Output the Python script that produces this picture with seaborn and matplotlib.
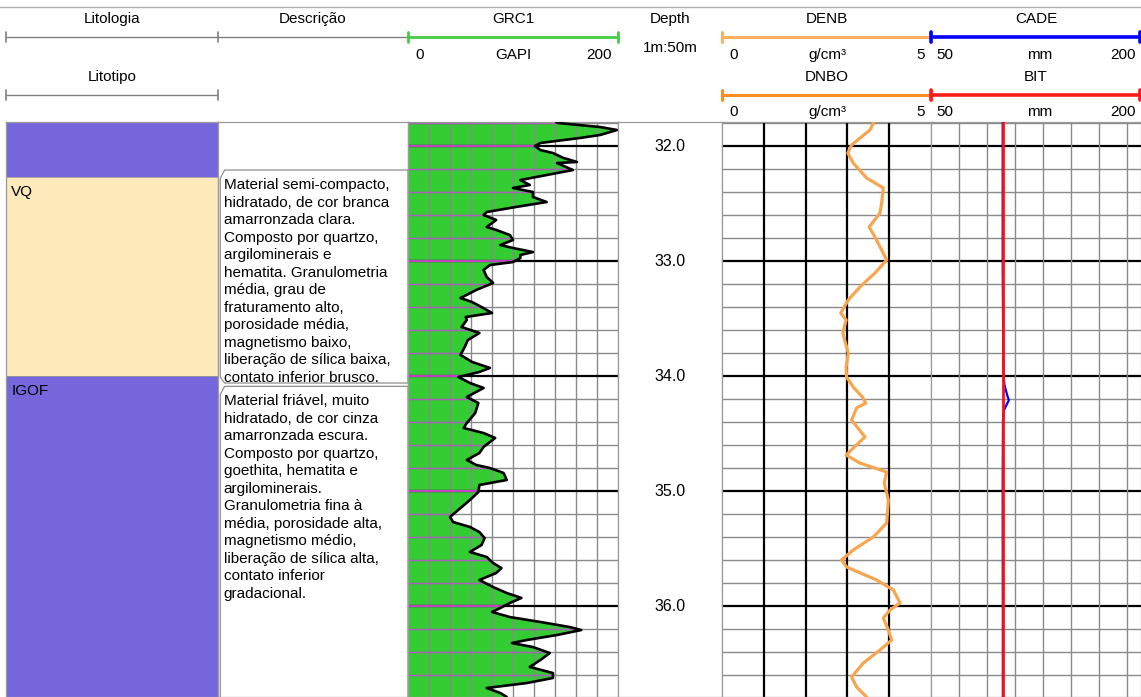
import matplotlib
matplotlib.use("Agg")
import matplotlib.pyplot as plt
from matplotlib.patches import PathPatch, Polygon
import seaborn as sns

sns.set_style("white")
plt.rcParams['font.family'] = ['Liberation Sans', 'DejaVu Sans']
plt.rcParams['text.color'] = 'black'

# ---------------- data ----------------
depth_top, depth_bottom = 31.7913, 36.7913
depth_labels = [32.0, 33.0, 34.0, 35.0, 36.0]

lith_top = [31.7913, 32.272, 34.0]
lith_base = [32.272, 34.0, 36.7913]
lith_code = ["", "VQ", "IGOF"]
lith_color = ["#7566DB", "#FEE9BA", "#7566DB"]

desc_top = [32.209, 34.09]
desc_base = [34.061, 36.90]
desc_text = [
    "Material semi-compacto,\nhidratado, de cor branca\namarronzada clara.\nComposto por quartzo,\n"
    "argilominerais e\nhematita. Granulometria\nmédia, grau de\nfraturamento alto,\n"
    "porosidade média,\nmagnetismo baixo,\nliberação de sílica baixa,\ncontato inferior brusco.",
    "Material friável, muito\nhidratado, de cor cinza\namarronzada escura.\nComposto por quartzo,\n"
    "goethita, hematita e\nargilominerais.\nGranulometria fina à\nmédia, porosidade alta,\n"
    "magnetismo médio,\nliberação de sílica alta,\ncontato inferior\ngradacional.",
]

grc_depth = [31.791, 31.800, 31.835, 31.861, 31.904, 31.930, 31.974, 32.000, 32.035, 32.061,
             32.104, 32.139, 32.148, 32.209, 32.235, 32.296, 32.339, 32.365, 32.400, 32.443,
             32.487, 32.530, 32.574, 32.600, 32.643, 32.704, 32.730, 32.774, 32.817, 32.861,
             32.887, 32.922, 32.948, 32.974, 33.009, 33.035, 33.078, 33.139, 33.191, 33.252,
             33.322, 33.357, 33.400, 33.452, 33.487, 33.513, 33.574, 33.626, 33.687, 33.748,
             33.817, 33.878, 33.930, 33.965, 34.009, 34.061, 34.104, 34.183, 34.235, 34.322,
             34.409, 34.452, 34.496, 34.539, 34.617, 34.670, 34.730, 34.774, 34.800, 34.843,
             34.904, 34.948, 35.009, 35.078, 35.148, 35.226, 35.270, 35.313, 35.357, 35.409,
             35.470, 35.530, 35.574, 35.626, 35.670, 35.713, 35.774, 35.835, 35.887, 35.930,
             35.974, 36.017, 36.052, 36.096, 36.139, 36.183, 36.209, 36.252, 36.296, 36.322,
             36.357, 36.409, 36.470, 36.530, 36.583, 36.626, 36.670, 36.713, 36.757, 36.791]
grc_val = [141, 143, 183, 199, 183, 164, 126, 121, 126, 138,
           148, 161, 142, 157, 142, 107, 116, 100, 119, 119,
           132, 103, 75, 72, 84, 75, 84, 97, 100, 88,
           100, 119, 107, 107, 100, 78, 72, 75, 81, 65,
           50, 61, 70, 80, 55, 56, 51, 68, 57, 54,
           50, 61, 78, 68, 48, 59, 72, 56, 67, 64,
           56, 53, 72, 83, 72, 68, 56, 65, 78, 91,
           94, 68, 67, 59, 50, 40, 43, 59, 68, 73,
           70, 59, 75, 81, 89, 84, 68, 81, 94, 108,
           97, 88, 80, 97, 126, 154, 165, 142, 113, 99,
           119, 135, 126, 116, 138, 138, 113, 75, 88, 94]

denb_depth = [31.791, 31.800, 31.861, 31.991, 32.061, 32.148, 32.278, 32.365, 32.496, 32.583,
              32.704, 32.791, 32.991, 33.104, 33.226, 33.339, 33.452, 33.513, 33.626, 33.800,
              33.922, 34.009, 34.096, 34.183, 34.235, 34.278, 34.383, 34.530, 34.626, 34.687,
              34.757, 34.835, 34.930, 35.078, 35.278, 35.400, 35.513, 35.600, 35.661, 35.774,
              35.861, 35.974, 36.035, 36.104, 36.209, 36.296, 36.383, 36.496, 36.617, 36.704,
              36.791]
denb_val = [3.64, 3.62, 3.54, 3.10, 3.01, 3.14, 3.46, 3.86, 3.82, 3.78,
            3.52, 3.66, 3.94, 3.66, 3.30, 3.02, 2.84, 2.97, 2.89, 3.02,
            2.97, 2.98, 3.14, 3.36, 3.44, 3.22, 3.10, 3.42, 3.14, 2.97,
            3.30, 3.94, 3.88, 3.98, 3.94, 3.62, 3.14, 2.86, 2.98, 3.70,
            4.10, 4.26, 4.02, 3.86, 3.98, 4.06, 3.78, 3.38, 3.10, 3.22,
            3.46]

cade_depth = [31.791, 33.0, 33.4, 34.0, 34.08, 34.17, 34.21, 34.25, 34.30, 34.39, 35.0, 36.0, 36.791]
cade_val = [101.2, 101.2, 101.4, 101.8, 102.5, 104.5, 105.6, 104.0, 102.0, 101.4, 101.2, 101.3, 101.3]

bit_depth = [31.791, 36.791]
bit_val = [101.6, 101.6]

# ---------------- figure ----------------
W, H = 1141, 697
fig = plt.figure(figsize=(W / 100, H / 100), dpi=100)

hax = fig.add_axes([0, 0, 1, 1])
hax.set_xlim(0, W)
hax.set_ylim(H, 0)
hax.axis('off')

GRID_C = "#8a8a8a"
SPINE_C = "#9a9a9a"
FS = 11


def track(x0, x1, y0=122, y1=697):
    ax = fig.add_axes([x0 / W, 1 - y1 / H, (x1 - x0) / W, (y1 - y0) / H])
    ax.set_ylim(depth_bottom, depth_top)
    ax.set_xticks([])
    ax.set_yticks([])
    for s in ax.spines.values():
        s.set_color(SPINE_C)
        s.set_linewidth(0.9)
    return ax


minor_depths = [round(31.8 + 0.2 * i, 1) for i in range(26)]
minor_depths = [d for d in minor_depths if depth_top < d < depth_bottom]


def hgrid(ax, zorder=2):
    lines = []
    for d in minor_depths:
        major = abs(d - round(d)) < 1e-6
        ln = ax.axhline(d, color="black" if major else GRID_C,
                        lw=1.6 if major else 1.0, zorder=zorder)
        lines.append((d, major, ln))
    return lines


def finish(ax, xlim):
    ax.set_xlabel("")
    ax.set_ylabel("")
    ax.set_ylim(depth_bottom, depth_top)
    ax.set_xlim(*xlim)
    ax.set_xticks([])
    ax.set_yticks([])


# ---- Litologia ----
ax_l = track(6, 218)
ax_l.set_xlim(0, 1)
for t, b, c, col in zip(lith_top, lith_base, lith_code, lith_color):
    ax_l.axhspan(t, b, color=col, lw=0)
    if c:
        ax_l.text(0.025, t + 0.07, c, transform=ax_l.get_yaxis_transform(),
                  fontsize=FS, va='top', ha='left')
    ax_l.axhline(t, color=SPINE_C, lw=0.6)

# ---- Descrição ----
ax_d = track(218, 408)
ax_d.set_xlim(0, 1)
tr = ax_d.get_yaxis_transform()
for t, b, txt in zip(desc_top, desc_base, desc_text):
    box = Polygon([[0.012, b - 0.05], [0.012, t + 0.07], [0.035, t], [1.0, t],
                   [1.0, b], [0.035, b]], closed=True, facecolor="white",
                  edgecolor="#8f8f8f", lw=0.9, transform=tr, clip_on=False)
    ax_d.add_patch(box)
    for i, line in enumerate(txt.split("\n")):
        ax_d.text(0.03, t + 0.165 + i * 0.1522, line, transform=tr, fontsize=FS,
                  va='baseline', ha='left')

# ---- GRC1 ----
ax_g = track(408, 618)
ax_g.set_xlim(0, 200)
fill = ax_g.fill_betweenx(grc_depth, 0, grc_val, color="#33CC33", lw=0, zorder=1)
clip_patch = PathPatch(fill.get_paths()[0], transform=ax_g.transData)
for v in range(20, 200, 20):
    ax_g.axvline(v, color=GRID_C, lw=1.0, zorder=2)
for d, major, ln in hgrid(ax_g):
    m = ax_g.axhline(d, color="#c040c0" if major else "#a860b8",
                     lw=1.6 if major else 1.0, zorder=2.5)
    m.set_clip_path(clip_patch)
sns.lineplot(x=grc_val, y=grc_depth, orient='y', sort=False, estimator=None,
             color="black", linewidth=1.9, ax=ax_g, zorder=3)
finish(ax_g, (0, 200))

# ---- Depth ----
ax_z = track(618, 722)
ax_z.set_xlim(0, 1)
for d in depth_labels:
    ax_z.text(0.5, d, f"{d:.1f}", ha='center', va='center', fontsize=11.5)

# ---- DENB / DNBO ----
ax_n = track(722, 931)
ax_n.set_xlim(0, 5)
hgrid(ax_n)
for v in range(1, 5):
    ax_n.axvline(v, color="black", lw=1.6, zorder=2)
sns.lineplot(x=denb_val, y=denb_depth, orient='y', sort=False, estimator=None,
             color="#F7A650", linewidth=2.3, ax=ax_n, zorder=3)
finish(ax_n, (0, 5))

# ---- CADE / BIT ----
ax_c = track(931, 1141)
ax_c.set_xlim(50, 200)
hgrid(ax_c)
for v in range(70, 200, 20):
    ax_c.axvline(v, color=GRID_C, lw=1.0, zorder=2)
sns.lineplot(x=cade_val, y=cade_depth, orient='y', sort=False, estimator=None,
             color="#0000FF", linewidth=1.6, ax=ax_c, zorder=3)
sns.lineplot(x=bit_val, y=bit_depth, orient='y', sort=False, estimator=None,
             color="#FF1010", linewidth=2.0, ax=ax_c, zorder=4)
finish(ax_c, (50, 200))

# ---------------- header ----------------
hax.plot([0, W], [7, 7], color="#b0b0b0", lw=1)


def scale_line(x0, x1, y, color, lw, ticks=(True, True)):
    hax.plot([x0, x1], [y, y], color=color, lw=lw, solid_capstyle='butt')
    for x, tk in zip((x0, x1), ticks):
        if tk:
            hax.plot([x, x], [y - 5, y + 5], color=color, lw=max(lw, 1.2))


scale_line(6, 218, 37, "#808080", 1.0)
scale_line(218, 408, 37, "#808080", 1.0, ticks=(False, False))
scale_line(408, 618, 37, "#44CC44", 2.0)
scale_line(722, 931, 37, "#FDB062", 2.2)
scale_line(931, 1140, 37, "#0000FF", 2.6)
scale_line(6, 218, 95, "#808080", 1.0)
scale_line(722, 931, 95, "#FF8C22", 2.2)
scale_line(931, 1140, 95, "#FF1A1A", 2.6)

for x, s in [(112, "Litologia"), (313, "Descrição"), (513, "GRC1"), (670, "Depth"),
             (827, "DENB"), (1036, "CADE")]:
    hax.text(x, 19, s, ha='center', va='center', fontsize=FS)
hax.text(112, 77, "Litotipo", ha='center', va='center', fontsize=FS)
hax.text(827, 77, "DNBO", ha='center', va='center', fontsize=FS)
hax.text(1036, 77, "BIT", ha='center', va='center', fontsize=FS)
hax.text(670, 48, "1m:50m", ha='center', va='center', fontsize=FS)

for y in (55, 112):
    hax.text(729, y, "0", ha='left', va='center', fontsize=FS)
    hax.text(827, y, "g/cm³", ha='center', va='center', fontsize=FS)
    hax.text(925, y, "5", ha='right', va='center', fontsize=FS)
    hax.text(936, y, "50", ha='left', va='center', fontsize=FS)
    hax.text(1040, y, "mm", ha='center', va='center', fontsize=FS)
    hax.text(1136, y, "200", ha='right', va='center', fontsize=FS)
hax.text(415, 55, "0", ha='left', va='center', fontsize=FS)
hax.text(513, 55, "GAPI", ha='center', va='center', fontsize=FS)
hax.text(612, 55, "200", ha='right', va='center', fontsize=FS)

fig.savefig("out.png", dpi=100)
